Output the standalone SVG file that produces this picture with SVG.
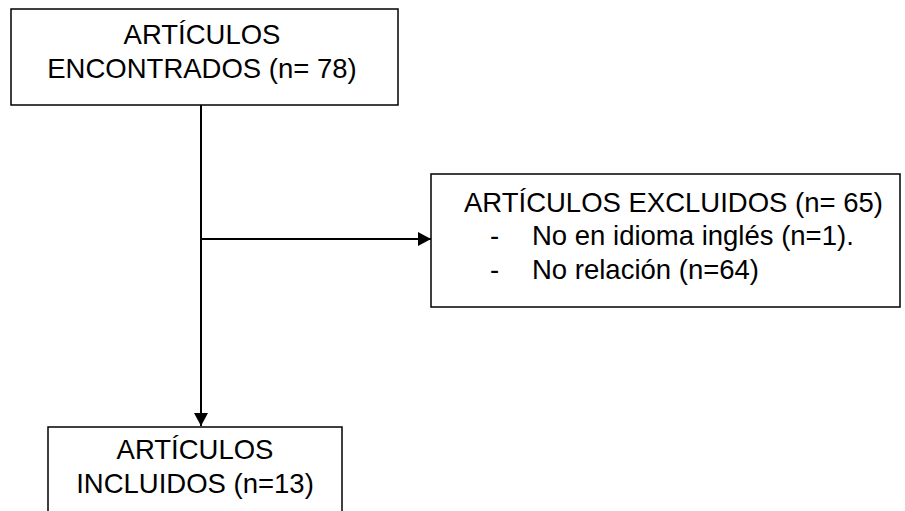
<svg xmlns="http://www.w3.org/2000/svg" width="905" height="511" viewBox="0 0 905 511">
  <defs>
    <style>
      .box { fill: #ffffff; stroke: #000000; stroke-width: 1.5; }
      .t { font-family: "Liberation Sans", Arial, sans-serif; font-size: 27.5px; fill: #000000; }
      .c { text-anchor: middle; }
      .line { stroke: #000000; stroke-width: 2; fill: none; }
    </style>
    <marker id="arrow" markerWidth="14" markerHeight="14" refX="13" refY="7" orient="auto" markerUnits="userSpaceOnUse">
      <path d="M0,0 L13,7 L0,14 Z" fill="#000000"/>
    </marker>
  </defs>
  <rect width="905" height="511" fill="#ffffff"/>

  <g id="connectors">
    <line class="line" x1="201" y1="105" x2="201" y2="426" marker-end="url(#arrow)"/>
    <line class="line" x1="201" y1="239" x2="431" y2="239" marker-end="url(#arrow)"/>
  </g>

  <g id="node-encontrados">
    <rect class="box" x="11" y="9" width="387" height="96"/>
    <text class="t c" x="202" y="44">ARTÍCULOS</text>
    <text class="t c" x="202" y="78">ENCONTRADOS (n= 78)</text>
  </g>

  <g id="node-excluidos">
    <rect class="box" x="431" y="174" width="469" height="133"/>
    <text class="t" x="464" y="212">ARTÍCULOS EXCLUIDOS (n= 65)</text>
    <text class="t" x="490" y="245">-</text>
    <text class="t" x="532" y="245">No en idioma inglés (n=1).</text>
    <text class="t" x="490" y="279">-</text>
    <text class="t" x="532" y="279">No relación (n=64)</text>
  </g>

  <g id="node-incluidos">
    <rect class="box" x="48" y="427" width="294" height="100"/>
    <text class="t c" x="195" y="459">ARTÍCULOS</text>
    <text class="t c" x="195" y="493">INCLUIDOS (n=13)</text>
  </g>
</svg>
